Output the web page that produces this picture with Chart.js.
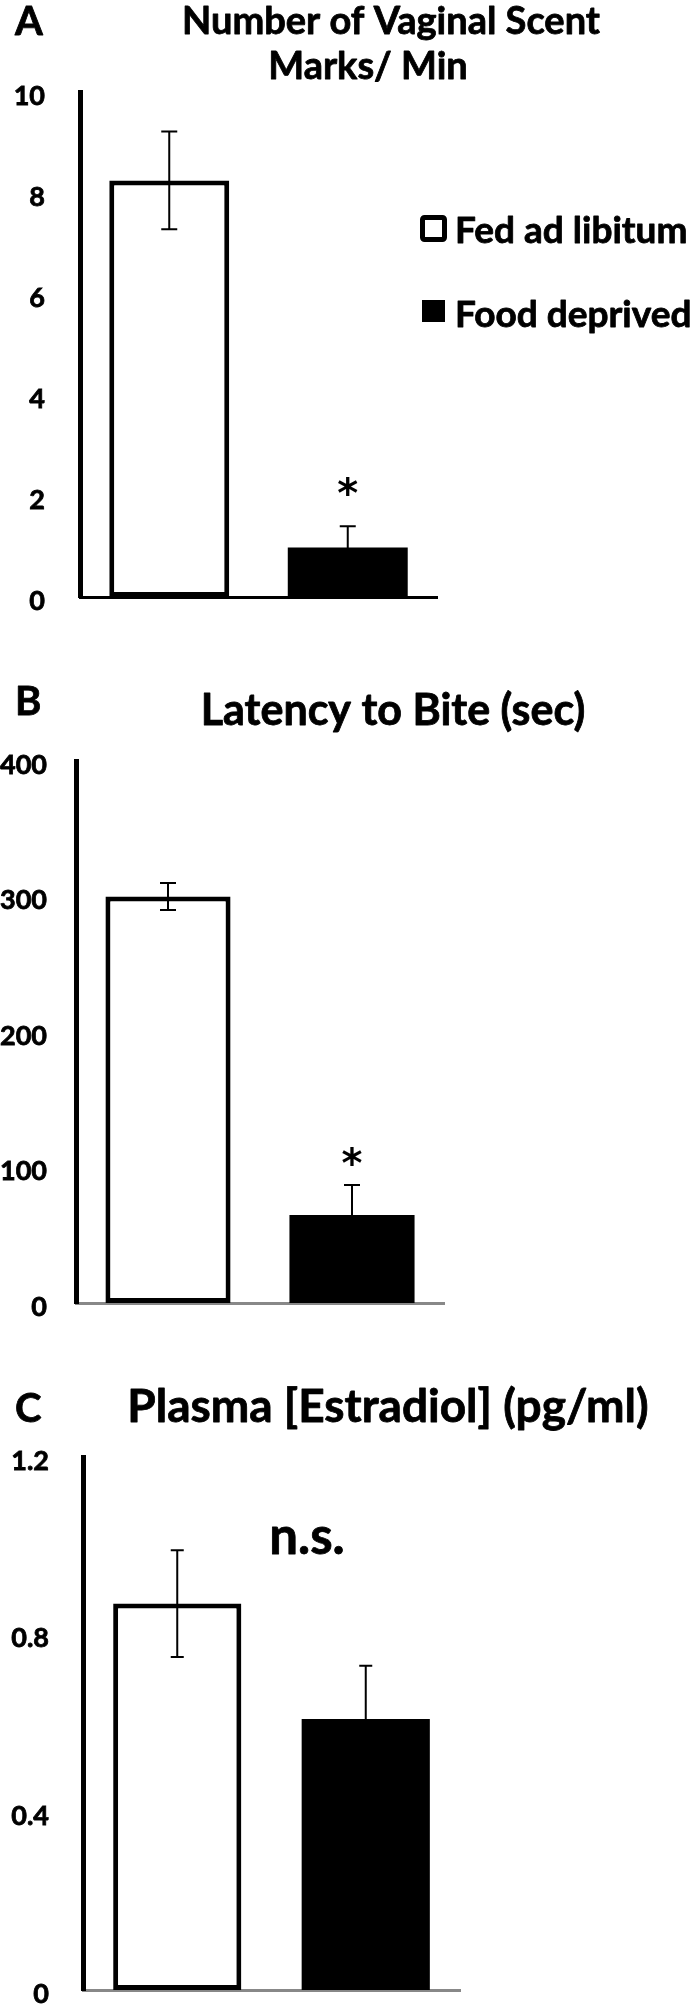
<!DOCTYPE html>
<html>
<head>
<meta charset="utf-8">
<script src="https://cdn.jsdelivr.net/npm/chart.js@4.4.1/dist/chart.umd.min.js"></script>
<style>
body { margin: 0; background: #fff; }
#page { position: relative; width: 700px; height: 2009px; overflow: hidden; }
canvas { position: absolute; left: 0; }
</style>
</head>
<body>
<div id="page">
  <canvas id="chartA" width="700" height="620" style="top:0px"></canvas>
  <canvas id="chartB" width="700" height="700" style="top:620px"></canvas>
  <canvas id="chartC" width="700" height="689" style="top:1320px"></canvas>
</div>
<script>
// groups + bar fills
var groups = ['Fed ad libitum', 'Food deprived'];
var barFills = ['#ffffff', '#000000'];

// A - vaginal scent marks / min
var scentMarks = [8.25, 0.98];
var scentErr = [0.97, 0.42];
var scentTicks = [0, 2, 4, 6, 8, 10];
var scentSig = ['', '*'];

// B - latency to bite (sec)
var biteLatency = [300, 65];
var biteErr = [10, 22];
var biteTicks = [0, 100, 200, 300, 400];
var biteSig = ['', '*'];

// C - plasma estradiol (pg/ml)
var estradiol = [0.87, 0.61];
var estradiolErr = [0.12, 0.12];
var estradiolTicks = [0, 0.4, 0.8, 1.2];

var FONT = 'Lato, "Open Sans", sans-serif';

var errorBars = {
  id: 'errorBars',
  afterDatasetsDraw: function(chart, args, opts) {
    var ctx = chart.ctx, y = chart.scales.y;
    var vals = chart.data.datasets[0].data;
    ctx.save();
    ctx.strokeStyle = '#000';
    ctx.fillStyle = '#000';
    ctx.lineWidth = 2;
    chart.getDatasetMeta(0).data.forEach(function(bar, i) {
      var hi = y.getPixelForValue(vals[i] + opts.err[i]);
      var lo = y.getPixelForValue(vals[i] - opts.err[i]);
      var c = opts.cap / 2;
      ctx.beginPath();
      ctx.moveTo(bar.x, lo); ctx.lineTo(bar.x, hi);
      ctx.moveTo(bar.x - c, hi); ctx.lineTo(bar.x + c, hi);
      ctx.moveTo(bar.x - c, lo); ctx.lineTo(bar.x + c, lo);
      ctx.stroke();
      if (opts.sig && opts.sig[i]) {
        // star centred sigGap px above the cap
        ctx.font = 'bold 40px "DejaVu Sans", sans-serif';
        ctx.textAlign = 'center';
        ctx.textBaseline = 'alphabetic';
        var m = ctx.measureText(opts.sig[i]);
        var mid = hi - opts.sigGap;
        ctx.fillText(opts.sig[i], bar.x, mid + (m.actualBoundingBoxAscent - m.actualBoundingBoxDescent) / 2);
      }
    });
    ctx.restore();
  }
};

var panelText = {
  id: 'panelText',
  afterDraw: function(chart, args, opts) {
    var ctx = chart.ctx;
    ctx.save();
    ctx.fillStyle = '#000';
    ctx.strokeStyle = '#000';
    ctx.textBaseline = 'alphabetic';
    ctx.lineJoin = 'round';
    function put(text, x, y, font, align) {
      ctx.font = font;
      ctx.textAlign = align || 'left';
      ctx.lineWidth = 0.8;
      ctx.fillText(text, x, y);
      ctx.strokeText(text, x, y);
    }
    (opts.items || []).forEach(function(t) {
      put(t.text, t.x, t.y, t.font, t.align);
    });
    if (opts.legend) {
      var lg = opts.legend;
      groups.forEach(function(g, i) {
        var row = lg.rows[i];
        if (i === 0) {
          ctx.lineWidth = 5;
          ctx.beginPath();
          ctx.roundRect(row.bx + 2.5, row.by + 2.5, row.bw - 5, row.bh - 5, 2);
          ctx.stroke();
        } else {
          ctx.fillRect(row.bx, row.by, row.bw, row.bh);
        }
        put(g, lg.tx, row.ty, lg.font);
      });
    }
    ctx.restore();
  }
};

function makeChart(id, values, p) {
  return new Chart(document.getElementById(id), {
    type: 'bar',
    data: {
      labels: groups,
      datasets: [{
        data: values,
        backgroundColor: barFills,
        borderColor: '#000',
        borderWidth: [5, 0],
        borderSkipped: false,
        barPercentage: p.barPct,
        categoryPercentage: 1
      }]
    },
    options: {
      responsive: false,
      animation: false,
      devicePixelRatio: 1,
      layout: { padding: p.pad },
      plugins: {
        legend: { display: false },
        tooltip: { enabled: false },
        title: { display: false },
        errorBars: { err: p.err, cap: p.cap, sig: p.sig, sigGap: p.sigGap },
        panelText: { items: p.text, legend: p.legend }
      },
      scales: {
        x: {
          grid: { display: false, drawTicks: false },
          border: { display: true, color: p.xColor, width: 3 },
          ticks: { display: false },
          afterFit: function(s) { s.height = 0; }
        },
        y: {
          min: 0,
          max: p.ticks[p.ticks.length - 1],
          grid: { display: false, drawTicks: false },
          border: { display: true, color: '#000', width: 5 },
          ticks: {
            color: '#000',
            font: { family: FONT, weight: 'bold', size: 27 },
            textStrokeColor: '#000',
            textStrokeWidth: 0.8,
            padding: p.tickPad,
            labelOffset: 4,
            callback: function(v) { return String(v); }
          },
          afterBuildTicks: function(s) {
            s.ticks = p.ticks.map(function(v) { return { value: v }; });
          },
          afterFit: function(s) {
            // fixed axis gutter; don't let label padding push the plot area
            s.width = p.left;
            s.paddingTop = 0;
            s.paddingBottom = 0;
          }
        }
      }
    },
    plugins: [errorBars, panelText]
  });
}

var letterFont = 'bold 40px ' + FONT;

makeChart('chartA', scentMarks, {
  err: scentErr, sig: scentSig, sigGap: 40, cap: 16,
  ticks: scentTicks, left: 80, tickPad: 35, barPct: 0.672, xColor: '#000',
  pad: { top: 92, bottom: 23, left: 0, right: 263 },
  text: [
    { text: 'A', x: 15, y: 35, font: letterFont },
    { text: 'Number of Vaginal Scent', x: 391, y: 34, font: 'bold 38px ' + FONT, align: 'center' },
    { text: 'Marks/ Min', x: 368, y: 79, font: 'bold 38px ' + FONT, align: 'center' }
  ],
  legend: {
    font: 'bold 37px ' + FONT, tx: 455,
    rows: [
      { bx: 420, by: 215, bw: 27, bh: 27, ty: 243 },
      { bx: 422, by: 300, bw: 23, bh: 22, ty: 327 }
    ]
  }
});

makeChart('chartB', biteLatency, {
  err: biteErr, sig: biteSig, sigGap: 29, cap: 16,
  ticks: biteTicks, left: 76, tickPad: 29, barPct: 0.68, xColor: '#888',
  pad: { top: 141, bottom: 17, left: 0, right: 256 },
  text: [
    { text: 'B', x: 15, y: 95, font: letterFont },
    { text: 'Latency to Bite (sec)', x: 393, y: 105, font: 'bold 43px ' + FONT, align: 'center' }
  ]
});

makeChart('chartC', estradiol, {
  err: estradiolErr, sig: null, sigGap: 0, cap: 13,
  ticks: estradiolTicks, left: 83, tickPad: 34, barPct: 0.68, xColor: '#888',
  pad: { top: 137, bottom: 19, left: 0, right: 240 },
  text: [
    { text: 'C', x: 15, y: 102, font: letterFont },
    { text: 'Plasma [Estradiol] (pg/ml)', x: 388, y: 102, font: 'bold 46px ' + FONT, align: 'center' },
    { text: 'n.s.', x: 307, y: 234, font: 'bold 51px ' + FONT, align: 'center' }
  ]
});
</script>
</body>
</html>
